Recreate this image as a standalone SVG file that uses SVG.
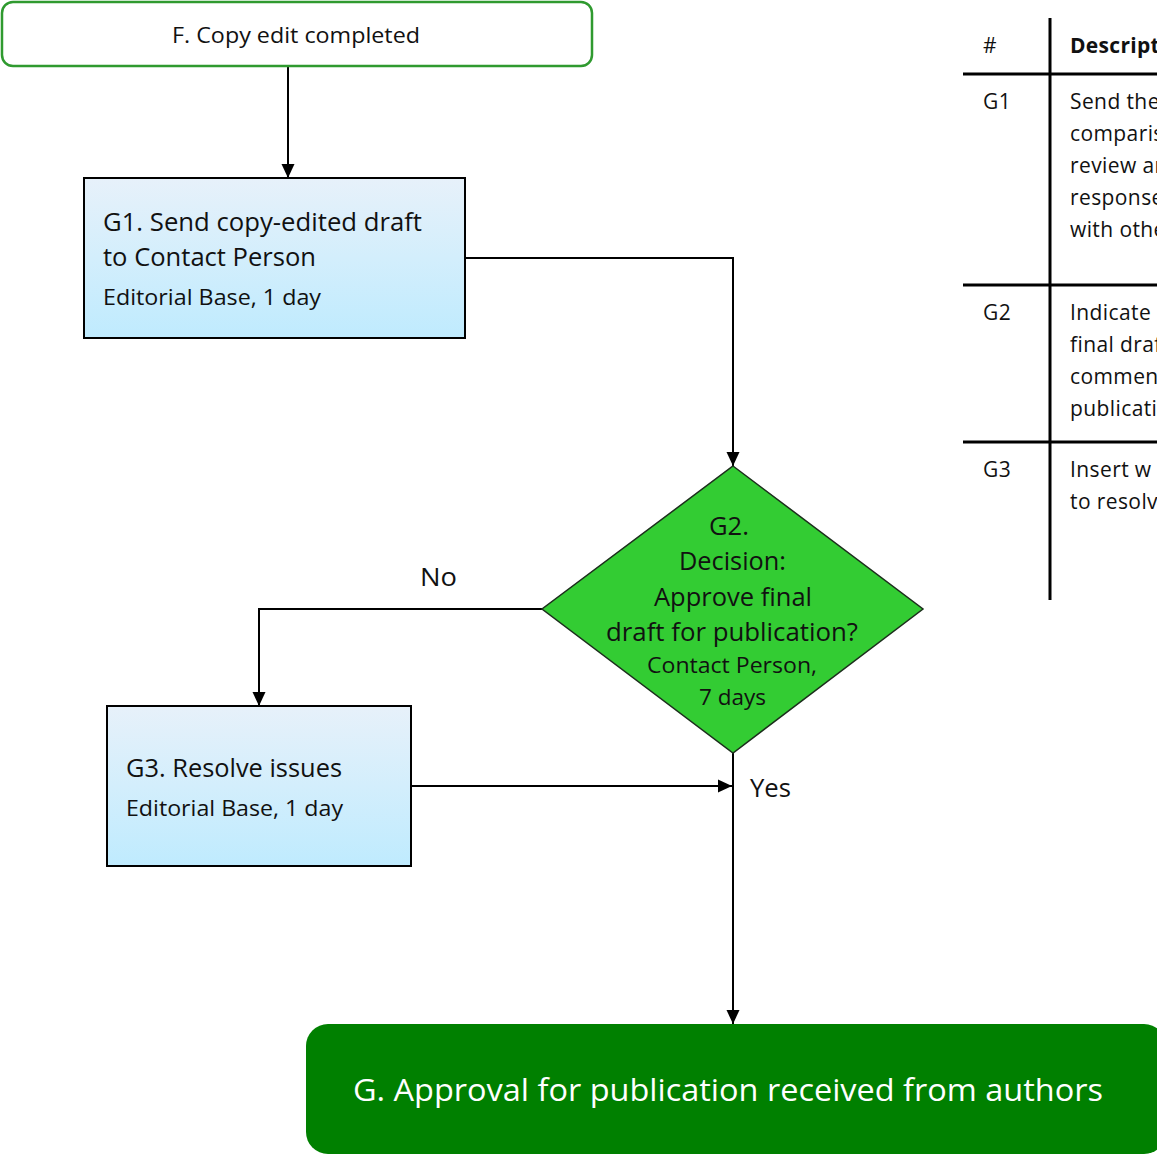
<svg xmlns="http://www.w3.org/2000/svg" width="1157" height="1155" viewBox="0 0 1157 1155">
  <style>
    text { font-family: "Open Sans", "Noto Sans", "Liberation Sans", sans-serif; fill: #111; }
    .big { font-size: 25px; }
    .small { font-size: 22px; }
    .tbl { font-size: 21px; letter-spacing: 0.4px; }
    .hdr { font-size: 21px; font-weight: bold; letter-spacing: 0.3px; }
    .conn { fill: none; stroke: #000; stroke-width: 2; }
    .rule { stroke: #000; stroke-width: 3; }
    .task { stroke: #000; stroke-width: 2; fill: url(#taskFill); }
  </style>
  <defs>
    <linearGradient id="taskFill" x1="0" y1="0" x2="0" y2="1">
      <stop offset="0" stop-color="#e7f1fa"/>
      <stop offset="1" stop-color="#bfebfe"/>
    </linearGradient>
    <marker id="arrow" markerWidth="14" markerHeight="14" refX="14" refY="7" orient="auto" markerUnits="userSpaceOnUse">
      <path d="M0,0.5 L14,7 L0,13.5 Z" fill="#000"/>
    </marker>
  </defs>

  <rect width="1157" height="1155" fill="#fff"/>

  <!-- connectors -->
  <g id="connectors">
    <path class="conn" d="M288,66 V178" marker-end="url(#arrow)"/>
    <path class="conn" d="M465,258 H733 V466" marker-end="url(#arrow)"/>
    <path class="conn" d="M542,609 H259 V706" marker-end="url(#arrow)"/>
    <path class="conn" d="M411,786 H732" marker-end="url(#arrow)"/>
    <path class="conn" d="M733,753 V1024" marker-end="url(#arrow)"/>
    <text class="big" x="420" y="586" textLength="37" lengthAdjust="spacingAndGlyphs">No</text>
    <text class="big" x="750" y="797" textLength="41" lengthAdjust="spacingAndGlyphs">Yes</text>
  </g>

  <!-- F: start terminator -->
  <g id="nodeF">
    <rect x="2" y="2" width="590" height="64" rx="11" fill="#fff" stroke="#2f9a2f" stroke-width="2.5"/>
    <text class="small" x="172" y="43" textLength="248" lengthAdjust="spacingAndGlyphs">F. Copy edit completed</text>
  </g>

  <!-- G1: task -->
  <g id="nodeG1">
    <rect class="task" x="84" y="178" width="381" height="160"/>
    <text class="big" x="103" y="231" textLength="319" lengthAdjust="spacingAndGlyphs">G1. Send copy-edited draft</text>
    <text class="big" x="103" y="266" textLength="213" lengthAdjust="spacingAndGlyphs">to Contact Person</text>
    <text class="small" x="103" y="305" textLength="218" lengthAdjust="spacingAndGlyphs">Editorial Base, 1 day</text>
  </g>

  <!-- G2: decision -->
  <g id="nodeG2">
    <polygon points="733,466 923,609 733,753 542,609" fill="#33cc33" stroke="#1c2e1c" stroke-width="1.5"/>
    <text class="big" x="709" y="535" textLength="40" lengthAdjust="spacingAndGlyphs">G2.</text>
    <text class="big" x="679" y="570" textLength="107" lengthAdjust="spacingAndGlyphs">Decision:</text>
    <text class="big" x="654" y="606" textLength="158" lengthAdjust="spacingAndGlyphs">Approve final</text>
    <text class="big" x="606" y="641" textLength="252" lengthAdjust="spacingAndGlyphs">draft for publication?</text>
    <text class="small" x="647" y="673" textLength="170" lengthAdjust="spacingAndGlyphs">Contact Person,</text>
    <text class="small" x="699" y="705" textLength="67" lengthAdjust="spacingAndGlyphs">7 days</text>
  </g>

  <!-- G3: task -->
  <g id="nodeG3">
    <rect class="task" x="107" y="706" width="304" height="160"/>
    <text class="big" x="126" y="777" textLength="216" lengthAdjust="spacingAndGlyphs">G3. Resolve issues</text>
    <text class="small" x="126" y="816" textLength="217" lengthAdjust="spacingAndGlyphs">Editorial Base, 1 day</text>
  </g>

  <!-- G: end terminator -->
  <g id="nodeG">
    <rect x="306" y="1024" width="860" height="130" rx="22" fill="#008000"/>
    <text x="353" y="1101" font-size="31" textLength="750" lengthAdjust="spacingAndGlyphs" style="fill:#fff">G. Approval for publication received from authors</text>
  </g>

  <!-- description table (runs past the right edge) -->
  <g id="table">
    <line class="rule" x1="1050" y1="18" x2="1050" y2="600"/>
    <line class="rule" x1="963" y1="74" x2="1157" y2="74"/>
    <line class="rule" x1="963" y1="285" x2="1157" y2="285"/>
    <line class="rule" x1="963" y1="442" x2="1157" y2="442"/>
    <text class="tbl" x="983" y="53">#</text>
    <text class="hdr" x="1070" y="53">Description</text>

    <text class="tbl" x="983" y="109">G1</text>
    <text class="tbl" x="1070" y="109">Send the</text>
    <text class="tbl" x="1070" y="141">comparison</text>
    <text class="tbl" x="1070" y="173">review and</text>
    <text class="tbl" x="1070" y="205">response</text>
    <text class="tbl" x="1070" y="237">with other</text>

    <text class="tbl" x="983" y="320">G2</text>
    <text class="tbl" x="1070" y="320">Indicate</text>
    <text class="tbl" x="1070" y="352">final draft</text>
    <text class="tbl" x="1070" y="384">comments</text>
    <text class="tbl" x="1070" y="416">publication</text>

    <text class="tbl" x="983" y="477">G3</text>
    <text class="tbl" x="1070" y="477">Insert w</text>
    <text class="tbl" x="1070" y="509">to resolve</text>
  </g>
</svg>
